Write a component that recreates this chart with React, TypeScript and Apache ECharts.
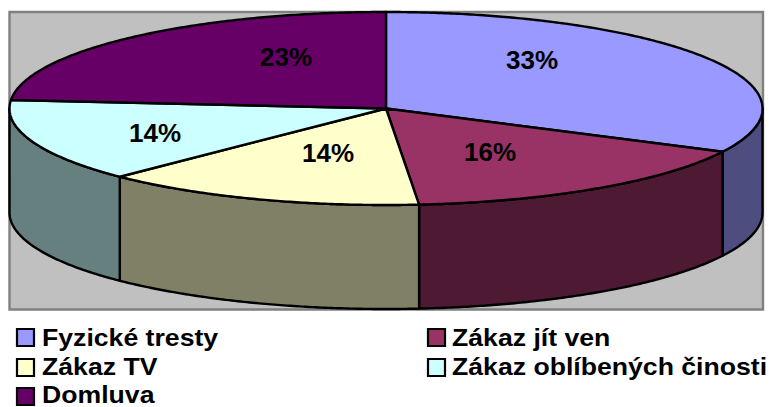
import React, { useEffect, useRef } from "react";
import * as echarts from "echarts";

const categories = ["Fyzické tresty", "Zákaz jít ven", "Zákaz TV", "Zákaz oblíbených činosti", "Domluva"];
// Shares of the drawn circle, as measured in the picture
const sliceShares = [32.4, 16.2, 13.9, 13.9, 23.6];
const percentLabels = ["33%", "16%", "14%", "14%", "23%"];
const topColors = ["#9999FF", "#993366", "#FFFFCC", "#CCFFFF", "#660066"];
const sideColors = ["#4D4D80", "#4D1933", "#808066", "#668080", "#33004D"];

// Layout
const CX = 386, CY = 108.5, RX = 376.5, RY = 96.5, DEPTH = 104;
const labelAt: number[][] = [[532, 60], [490, 152], [328, 153], [155, 133], [286, 57]];
const legendAt: number[][] = [[17, 329], [428, 329], [17, 359], [428, 359], [17, 388]];
const legendTextX = [42, 452, 42, 452, 42];
const legendTextY = [338, 338, 367, 367, 395];
const FONT = '"Liberation Sans", Arial, sans-serif';
const LINE = 2.4;

const rad = (t: number) => (t * Math.PI) / 180;
const pt = (t: number, dy = 0): number[] => [CX + RX * Math.sin(rad(t)), CY - RY * Math.cos(rad(t)) + dy];
function arc(a: number, b: number, dy = 0): number[][] {
  const n = Math.max(2, Math.ceil(Math.abs(b - a) * 2));
  const out: number[][] = [];
  for (let i = 0; i <= n; i++) out.push(pt(a + ((b - a) * i) / n, dy));
  return out;
}

export default function App() {
  const ref = useRef<HTMLDivElement>(null);
  useEffect(() => {
    document.body.style.margin = "0";
    const chart = echarts.init(ref.current!, null, { renderer: "svg" });
    const total = sliceShares.reduce((s, v) => s + v, 0);
    let acc = 0;
    const spans = sliceShares.map((v) => {
      const a = (acc / total) * 360;
      acc += v;
      return [a, (acc / total) * 360];
    });
    const series: any[] = categories.map((name, i) => ({
      type: "custom",
      name,
      coordinateSystem: "none",
      silent: true,
      z: 2,
      itemStyle: { color: topColors[i] },
      data: [sliceShares[i]],
      renderItem: () => {
        const [a, b] = spans[i];
        const children: any[] = [];
        const s = Math.max(a, 90), e = Math.min(b, 270);
        if (e > s) {
          children.push({
            type: "polygon",
            shape: { points: [...arc(s, e), ...arc(e, s, DEPTH)] },
            style: { fill: sideColors[i], stroke: "#000", lineWidth: LINE, lineJoin: "round" },
          });
        }
        children.push({
          type: "polygon",
          shape: { points: [[CX, CY], ...arc(a, b)] },
          style: { fill: topColors[i], stroke: "#000", lineWidth: LINE, lineJoin: "round" },
        });
        children.push({
          type: "text",
          z2: 10,
          style: {
            text: percentLabels[i],
            x: labelAt[i][0],
            y: labelAt[i][1],
            align: "center",
            verticalAlign: "middle",
            fill: "#000",
            font: `bold 26px ${FONT}`,
          },
        });
        return { type: "group", children };
      },
    }));
    const legendGraphics: any[] = [];
    categories.forEach((name, i) => {
      const [x, y] = legendAt[i];
      legendGraphics.push({
        type: "rect",
        z: 5,
        silent: true,
        shape: { x, y, width: 17, height: 17 },
        style: { fill: topColors[i], stroke: "#000", lineWidth: 2.2 },
      });
      legendGraphics.push({
        type: "text",
        z: 5,
        silent: true,
        x: legendTextX[i],
        y: legendTextY[i],
        scaleX: 1.133,
        style: {
          text: name,
          x: 0,
          y: 0,
          align: "left",
          verticalAlign: "middle",
          fill: "#000",
          font: `bold 23.5px ${FONT}`,
        },
      });
    });
    chart.setOption({
      animation: false,
      backgroundColor: "#fff",
      graphic: [
        {
          type: "rect",
          z: 0,
          silent: true,
          shape: { x: 9.5, y: 12, width: 753.5, height: 297.5 },
          style: { fill: "#C0C0C0", stroke: "#808080", lineWidth: 2.4 },
        },
        ...legendGraphics,
      ],
      series,
    });
    return () => chart.dispose();
  }, []);
  return <div ref={ref} style={{ width: 769, height: 407 }} />;
}
